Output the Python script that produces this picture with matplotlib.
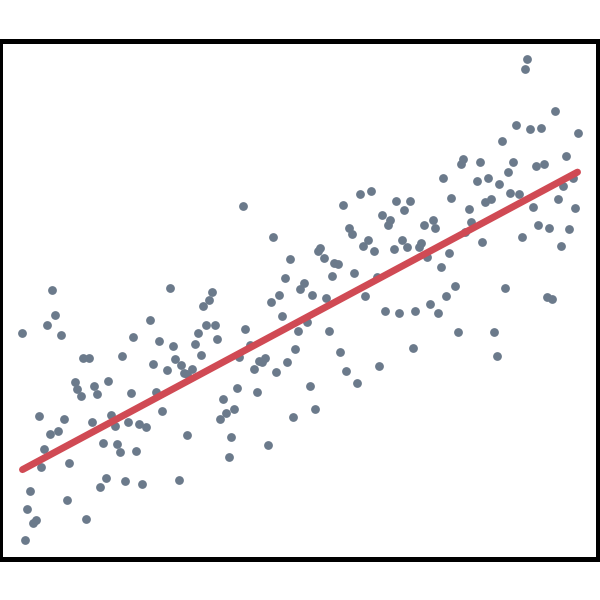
import numpy as np
import matplotlib
matplotlib.use('Agg')
import matplotlib.pyplot as plt

# scatter points (x, y)
x = [22, 47, 55, 61, 83, 89, 122, 133, 150, 75, 77, 81, 94, 97, 108, 131,
     39, 64, 50, 58, 92, 111, 115, 128, 139, 146, 153, 44, 41, 69, 103, 117,
     120, 136, 30, 27, 33, 36, 25, 67, 86, 100, 106, 125, 142, 52,
     203, 209, 159, 173, 175, 181, 184, 187, 192, 167, 195, 198, 201, 206,
     215, 217, 245, 250, 239, 254, 259, 262, 265, 276, 287, 295, 298, 282,
     271, 156, 162, 187, 179, 223, 237, 226, 220, 234, 231, 229, 257, 268,
     293, 243, 273, 290, 285, 170, 212, 279, 300, 304, 312, 326,
     443, 451, 343, 360, 371, 396, 410, 404, 382, 390, 388, 349, 352, 424,
     433, 435, 320, 318, 324, 334, 338, 363, 368, 374, 394, 402, 407, 419,
     421, 427, 449, 441, 332, 354, 377, 365, 446,
     527, 525, 555, 516, 530, 541, 578, 502, 463, 461, 480, 513, 566, 536,
     544, 508, 477, 488, 499, 563, 573, 510, 519, 485, 491, 469, 558, 533,
     575, 471, 465, 482, 522, 538, 549, 569, 561, 455, 505, 547, 552,
     385, 399, 415, 430, 438, 307, 329, 340, 346, 357, 379, 413, 310, 315,
     458, 494, 497]
y = [267, 275, 285, 265, 242, 242, 244, 263, 280, 218, 211, 204, 214, 206,
     219, 207, 184, 181, 166, 169, 178, 185, 174, 178, 176, 173, 236, 151,
     133, 137, 157, 156, 148, 149, 109, 91, 77, 80, 60, 100, 81, 113, 122,
     119, 116, 310,
     294, 300, 259, 254, 241, 235, 227, 226, 231, 230, 256, 267, 245, 275,
     275, 261, 271, 255, 243, 231, 239, 238, 242, 228, 238, 251, 269, 284,
     298, 208, 189, 165, 120, 201, 212, 187, 181, 191, 163, 143, 208, 155,
     183, 394, 363, 341, 322, 312, 308, 305, 311, 317, 305, 302,
     422, 402, 395, 406, 409, 399, 399, 390, 385, 380, 375, 372, 366, 375,
     380, 372, 352, 349, 342, 337, 336, 354, 360, 349, 351, 360, 353, 353,
     357, 343, 347, 333, 324, 327, 323, 304, 304,
     541, 531, 489, 475, 471, 472, 467, 459, 441, 436, 438, 438, 444, 434,
     436, 428, 419, 422, 416, 414, 422, 407, 406, 398, 401, 391, 401, 393,
     392, 378, 368, 358, 363, 375, 372, 371, 354, 314, 312, 303, 301,
     289, 287, 289, 296, 287, 278, 269, 248, 229, 217, 234, 252, 214, 191,
     268, 268, 244]

# fitted line end points
line_x = [22.5, 577.5]
line_y = [130.5, 428]

fig = plt.figure(figsize=(6, 6), dpi=100)
ax = fig.add_axes([0.0, 0.069, 0.9967, 0.8633])

ax.scatter(x, y, s=40, color='#6b7a8b', linewidths=0, zorder=2)
ax.plot(line_x, line_y, color='#d04a54', lw=5, solid_capstyle='round',
        zorder=3)

ax.set_xlim(0, 598)
ax.set_ylim(41.5, 559.5)
ax.set_xticks([])
ax.set_yticks([])
for sp in ax.spines.values():
    sp.set_linewidth(3.6)
    sp.set_color('black')

plt.savefig('out.png', dpi=100)
